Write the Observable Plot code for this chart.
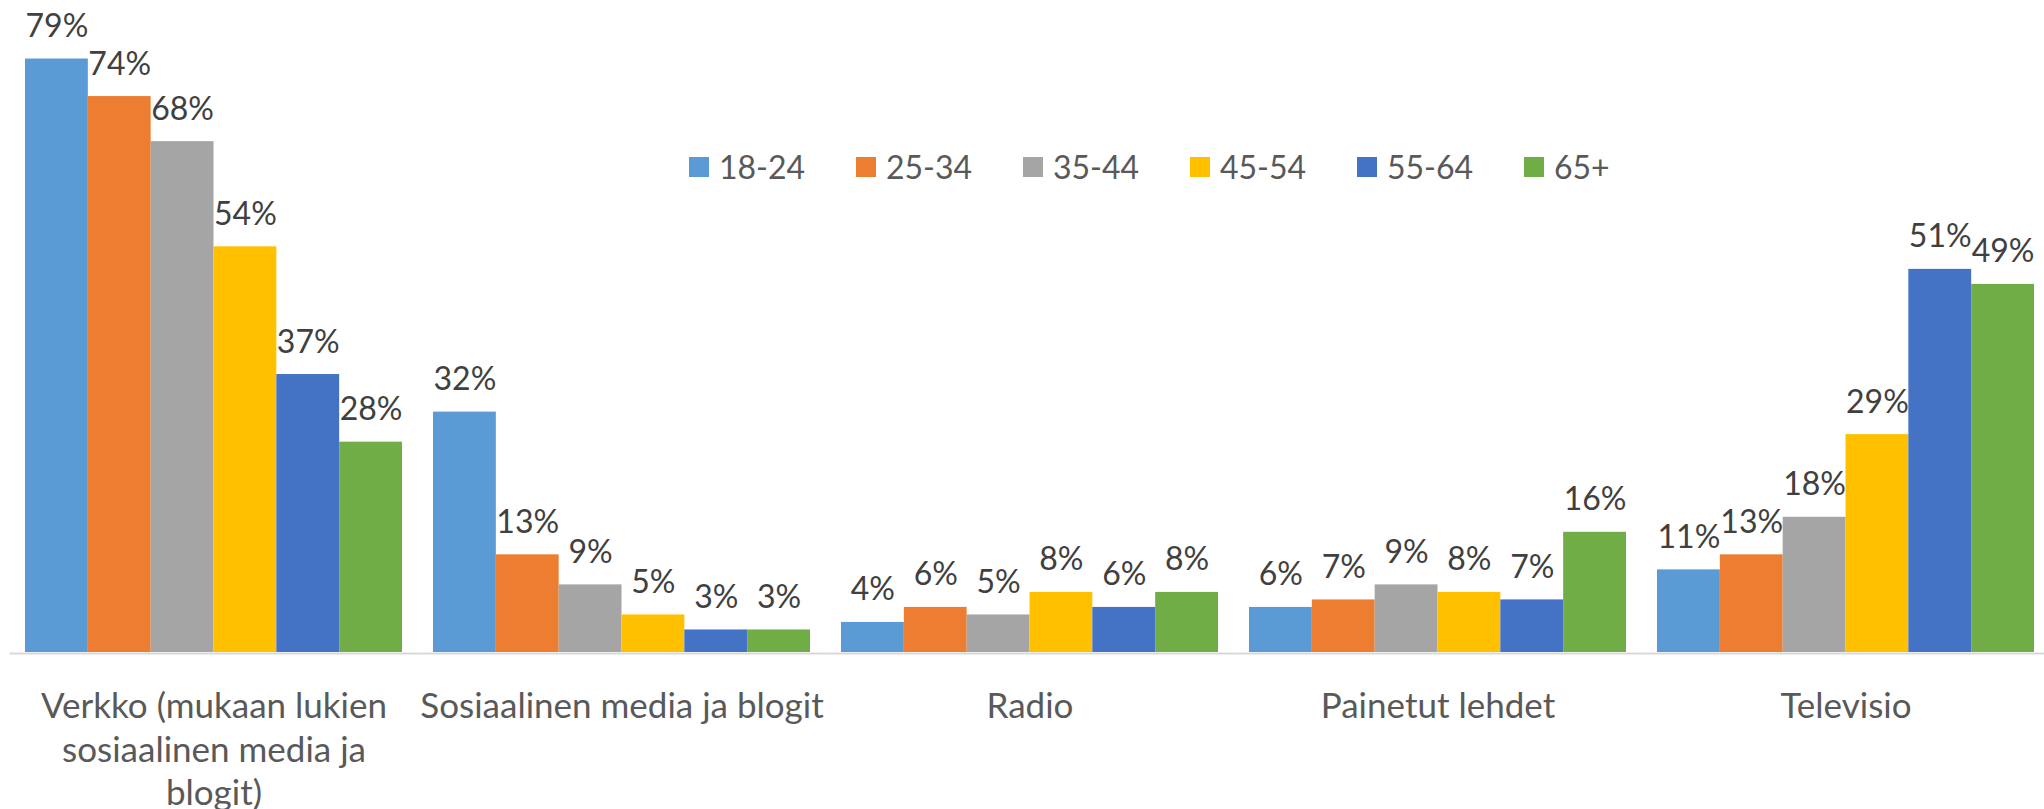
<!DOCTYPE html>
<html>
<head>
<meta charset="utf-8">
<script src="https://cdn.jsdelivr.net/npm/d3@7"></script>
<script src="https://cdn.jsdelivr.net/npm/@observablehq/plot@0.6"></script>
<style>
  html, body { margin: 0; padding: 0; background: #fff; }
  #wrap { position: relative; width: 2044px; height: 809px; }
  #legend { position: absolute; left: 689px; top: 147px; }
  .lg-swatches { margin: 0 !important; min-height: 0 !important; flex-wrap: nowrap !important; }
  .lg-swatch { width: 167px; margin-right: 0 !important; line-height: 40px; }
  .lg-swatch > svg { margin-right: 10px !important; }
</style>
</head>
<body>
<div id="wrap"><div id="chart"></div><div id="legend"></div></div>
<script>
// Categories (media) and their axis labels
const categories = [
  "Verkko (mukaan lukien sosiaalinen media ja blogit)",
  "Sosiaalinen media ja blogit",
  "Radio",
  "Painetut lehdet",
  "Televisio"
];
const categoryLabels = [
  "Verkko (mukaan lukien\nsosiaalinen media ja\nblogit)",
  "Sosiaalinen media ja blogit",
  "Radio",
  "Painetut lehdet",
  "Televisio"
];
// Age groups (series)
const ageGroups = ["18-24", "25-34", "35-44", "45-54", "55-64", "65+"];
const ageColors = ["#5B9BD5", "#ED7D31", "#A5A5A5", "#FFC000", "#4472C4", "#70AD47"];
// Values in % per age group, in category order
const v18_24 = [79, 32, 4, 6, 11];
const v25_34 = [74, 13, 6, 7, 13];
const v35_44 = [68, 9, 5, 9, 18];
const v45_54 = [54, 5, 8, 8, 29];
const v55_64 = [37, 3, 6, 7, 51];
const v65plus = [28, 3, 8, 16, 49];

const series = [v18_24, v25_34, v35_44, v45_54, v55_64, v65plus];
const data = [];
categories.forEach((c, ci) => {
  ageGroups.forEach((a, ai) => {
    data.push({category: c, age: a, value: series[ai][ci]});
  });
});
const labelOf = new Map(categories.map((c, i) => [c, categoryLabels[i]]));

const font = "Lato, 'Open Sans', sans-serif";

const chart = Plot.plot({
  width: 2044,
  height: 809,
  marginLeft: 25,
  marginRight: 10,
  marginTop: 51,
  marginBottom: 157,
  style: {fontFamily: font, fontSize: "32px", background: "#fff"},
  fx: {domain: categories, paddingInner: 0.076, paddingOuter: 0, round: false, axis: null},
  x: {domain: ageGroups, padding: 0, round: false, axis: null},
  y: {domain: [0, 80], axis: null},
  color: {domain: ageGroups, range: ageColors},
  marks: [
    Plot.ruleY([0], {stroke: "#d9d9d9", strokeWidth: 2, dy: 1, insetLeft: -15.5, insetRight: -15.5}),
    Plot.barY(data, {fx: "category", x: "age", y: "value", fill: "age"}),
    Plot.text(data, {
      fx: "category", x: "age", y: "value",
      text: d => d.value + "%",
      lineAnchor: "bottom", dy: -22,
      fill: "#404040", fontSize: 32
    }),
    Plot.text(categories, {
      fx: d => d,
      text: d => labelOf.get(d),
      frameAnchor: "bottom", lineAnchor: "top", dy: 35,
      lineHeight: 1.243,
      fill: "#595959", fontSize: 35
    })
  ]
});
document.getElementById("chart").appendChild(chart);

const legend = Plot.legend({
  color: {domain: ageGroups, range: ageColors},
  swatchSize: 20,
  className: "lg",
  style: {fontFamily: font, fontSize: "32px", color: "#595959"}
});
document.getElementById("legend").appendChild(legend);
</script>
</body>
</html>
